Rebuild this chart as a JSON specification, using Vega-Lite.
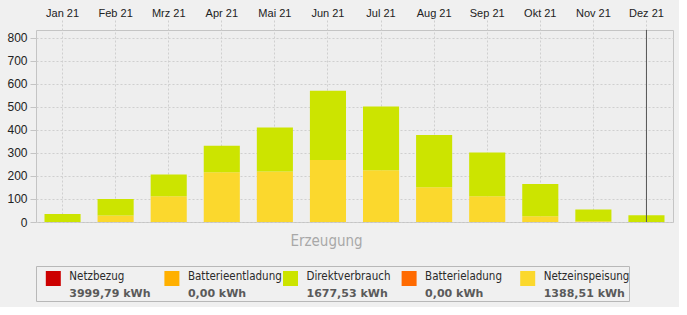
{
  "$schema": "https://vega.github.io/schema/vega-lite/v6.json",
  "background": "#f0f0f0",
  "padding": {"left": 6, "top": 6, "right": 5, "bottom": 5},
  "spacing": 4,
  "config": {
    "font": "Liberation Sans",
    "axis": {"labelFont": "Liberation Sans", "labelColor": "#222222"}
  },
  "vconcat": [
    {
      "width": 637,
      "height": 192,
      "view": {"stroke": "#c4c4c4", "fill": "#eeeeee"},
      "layer": [
        {
          "data": {
            "values": [
              {"month": "Jan 21", "series": "Netzeinspeisung", "value": 0},
              {"month": "Feb 21", "series": "Netzeinspeisung", "value": 28},
              {"month": "Mrz 21", "series": "Netzeinspeisung", "value": 112},
              {"month": "Apr 21", "series": "Netzeinspeisung", "value": 216},
              {"month": "Mai 21", "series": "Netzeinspeisung", "value": 219},
              {"month": "Jun 21", "series": "Netzeinspeisung", "value": 269},
              {"month": "Jul 21", "series": "Netzeinspeisung", "value": 224},
              {"month": "Aug 21", "series": "Netzeinspeisung", "value": 151},
              {"month": "Sep 21", "series": "Netzeinspeisung", "value": 112},
              {"month": "Okt 21", "series": "Netzeinspeisung", "value": 25},
              {"month": "Nov 21", "series": "Netzeinspeisung", "value": 3},
              {"month": "Dez 21", "series": "Netzeinspeisung", "value": 0},
              {"month": "Jan 21", "series": "Direktverbrauch", "value": 35},
              {"month": "Feb 21", "series": "Direktverbrauch", "value": 72},
              {"month": "Mrz 21", "series": "Direktverbrauch", "value": 94},
              {"month": "Apr 21", "series": "Direktverbrauch", "value": 115},
              {"month": "Mai 21", "series": "Direktverbrauch", "value": 191},
              {"month": "Jun 21", "series": "Direktverbrauch", "value": 300},
              {"month": "Jul 21", "series": "Direktverbrauch", "value": 277},
              {"month": "Aug 21", "series": "Direktverbrauch", "value": 226},
              {"month": "Sep 21", "series": "Direktverbrauch", "value": 189},
              {"month": "Okt 21", "series": "Direktverbrauch", "value": 140},
              {"month": "Nov 21", "series": "Direktverbrauch", "value": 51},
              {"month": "Dez 21", "series": "Direktverbrauch", "value": 29}
            ]
          },
          "mark": {"type": "bar"},
          "encoding": {
            "x": {
              "field": "month",
              "type": "nominal",
              "sort": ["Jan 21", "Feb 21", "Mrz 21", "Apr 21", "Mai 21", "Jun 21", "Jul 21", "Aug 21", "Sep 21", "Okt 21", "Nov 21", "Dez 21"],
              "scale": {"paddingInner": 0.32, "paddingOuter": 0.16},
              "axis": {
                "orient": "top",
                "title": null,
                "labelAngle": 0,
                "labelFontSize": 11,
                "labelPadding": 2,
                "domain": false,
                "tickSize": 10,
                "tickColor": "#cfcfcf",
                "tickDash": [2, 2],
                "grid": true,
                "gridColor": "#cfcfcf",
                "gridDash": [2, 2],
                "bandPosition": 0.5
              }
            },
            "y": {
              "field": "value",
              "type": "quantitative",
              "stack": "zero",
              "scale": {"domain": [0, 833], "nice": false},
              "axis": {
                "title": null,
                "values": [0, 100, 200, 300, 400, 500, 600, 700, 800],
                "labelFontSize": 12,
                "labelPadding": 3,
                "tickSize": 6,
                "tickColor": "#c4c4c4",
                "domain": false,
                "grid": true,
                "gridColor": "#cfcfcf",
                "gridDash": [2, 2]
              }
            },
            "color": {
              "field": "series",
              "type": "nominal",
              "scale": {
                "domain": ["Netzbezug", "Batterieentladung", "Direktverbrauch", "Batterieladung", "Netzeinspeisung"],
                "range": ["#cc0000", "#ffb000", "#cce400", "#ff6a00", "#fbd82d"]
              },
              "legend": null
            },
            "order": {"field": "series", "sort": "descending"}
          }
        },
        {
          "data": {"values": [{"month": "Dez 21"}]},
          "mark": {"type": "rule", "color": "#555555", "strokeWidth": 1},
          "encoding": {
            "x": {
              "field": "month",
              "type": "nominal",
              "sort": ["Jan 21", "Feb 21", "Mrz 21", "Apr 21", "Mai 21", "Jun 21", "Jul 21", "Aug 21", "Sep 21", "Okt 21", "Nov 21", "Dez 21"]
            }
          }
        }
      ]
    },
    {
      "width": 593,
      "height": 35,
      "title": {"text": "Erzeugung", "color": "#a8a8a8", "fontSize": 15, "fontWeight": "normal", "font": "DejaVu Sans Condensed", "anchor": "middle", "offset": 17, "dx": -6},
      "view": {"stroke": "#b8b8b8", "fill": null},
      "data": {
        "values": [
          {"name": "Netzbezug", "total": "3999,79 kWh"},
          {"name": "Batterieentladung", "total": "0,00 kWh"},
          {"name": "Direktverbrauch", "total": "1677,53 kWh"},
          {"name": "Batterieladung", "total": "0,00 kWh"},
          {"name": "Netzeinspeisung", "total": "1388,51 kWh"}
        ]
      },
      "encoding": {
        "x": {
          "field": "name",
          "type": "nominal",
          "sort": null,
          "scale": {"paddingInner": 0, "paddingOuter": 0},
          "axis": null
        }
      },
      "layer": [
        {
          "mark": {"type": "square", "size": 225, "filled": true, "opacity": 1, "xOffset": -42, "yOffset": -5},
          "encoding": {
            "color": {
              "field": "name",
              "type": "nominal",
              "scale": {
                "domain": ["Netzbezug", "Batterieentladung", "Direktverbrauch", "Batterieladung", "Netzeinspeisung"],
                "range": ["#cc0000", "#ffb000", "#cce400", "#ff6a00", "#fbd82d"]
              },
              "legend": null
            }
          }
        },
        {
          "mark": {"type": "text", "align": "left", "baseline": "middle", "xOffset": -26, "yOffset": -7, "fontSize": 11.5, "font": "DejaVu Sans Condensed", "color": "#2a2a2a"},
          "encoding": {"text": {"field": "name"}}
        },
        {
          "mark": {"type": "text", "align": "left", "baseline": "middle", "xOffset": -26, "yOffset": 10, "fontSize": 11, "fontWeight": "bold", "font": "DejaVu Sans", "color": "#5a5a5a"},
          "encoding": {"text": {"field": "total"}}
        }
      ]
    }
  ]
}
